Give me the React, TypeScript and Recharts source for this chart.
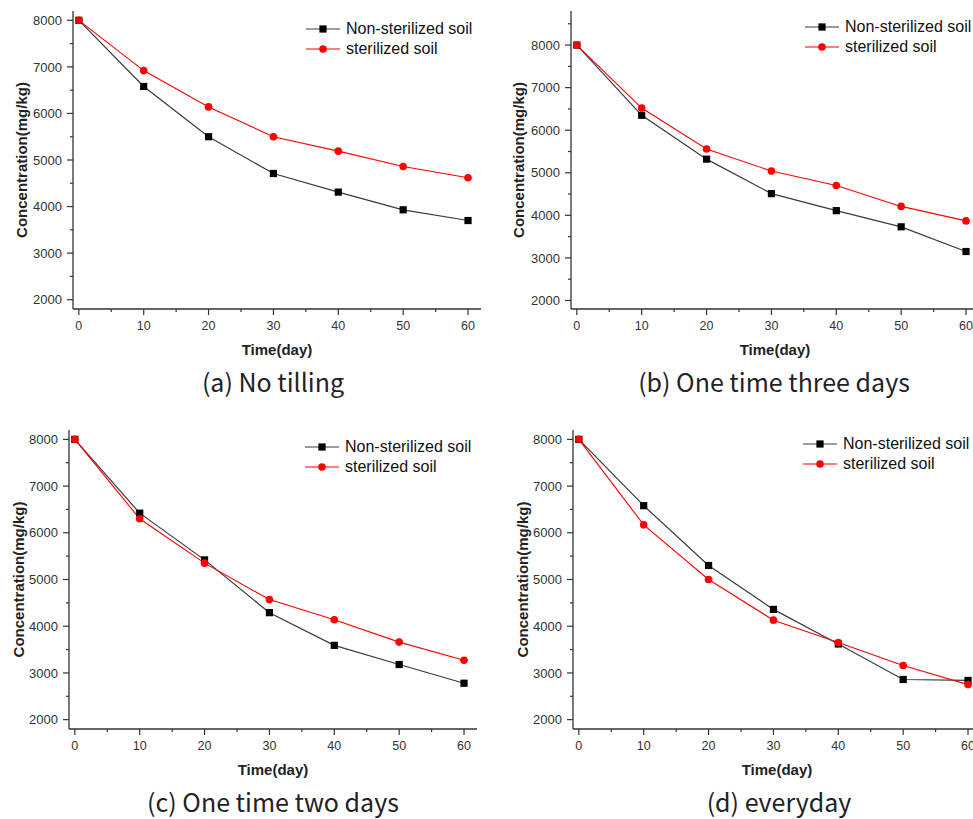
import React from 'react';
import { LineChart, Line, XAxis, YAxis, Legend } from 'recharts';

const days = [0, 10, 20, 30, 40, 50, 60];

// (a) No tilling
const noTillNon = [8000, 6580, 5500, 4710, 4310, 3930, 3700];
const noTillSter = [8000, 6920, 6140, 5500, 5190, 4860, 4620];
// (b) One time three days
const threeDayNon = [8000, 6350, 5320, 4510, 4110, 3730, 3150];
const threeDaySter = [8000, 6520, 5560, 5040, 4700, 4210, 3870];
// (c) One time two days
const twoDayNon = [8000, 6420, 5420, 4290, 3590, 3180, 2780];
const twoDaySter = [8000, 6300, 5350, 4570, 4140, 3660, 3270];
// (d) everyday
const dailyNon = [8000, 6580, 5300, 4360, 3620, 2860, 2840];
const dailySter = [8000, 6170, 5000, 4130, 3650, 3160, 2750];

const xTicks = [0, 5, 10, 15, 20, 25, 30, 35, 40, 45, 50, 55, 60];
const yTicksLow = [2000, 2500, 3000, 3500, 4000, 4500, 5000, 5500, 6000, 6500, 7000, 7500, 8000];
const yTicksHigh = [...yTicksLow, 8500];

const captions = ['(a) No tilling', '(b) One time three days', '(c) One time two days', '(d) everyday'];

const FONT = '"Liberation Sans", Arial, sans-serif';
const AXIS = '#333';

const YTick = (props: any) => {
  const { x, y, payload } = props;
  const v = payload.value;
  const major = v % 1000 === 0;
  const ax = x + 11;
  return (
    <g>
      <line x1={ax - (major ? 6 : 3)} y1={y} x2={ax} y2={y} stroke={AXIS} strokeWidth={1.2} />
      {major && (
        <text x={x} y={y} dy="0.36em" textAnchor="end" fontSize={13} fill={AXIS} fontFamily={FONT}>
          {v}
        </text>
      )}
    </g>
  );
};

const XTick = (props: any) => {
  const { x, y, payload } = props;
  const v = payload.value;
  const major = v % 10 === 0;
  const ay = y - 12;
  return (
    <g>
      <line x1={x} y1={ay} x2={x} y2={ay + (major ? 6 : 3)} stroke={AXIS} strokeWidth={1.2} />
      {major && (
        <text x={x} y={y} dy="0.71em" textAnchor="middle" fontSize={12.5} fill={AXIS} fontFamily={FONT}>
          {v}
        </text>
      )}
    </g>
  );
};

const Square = (p: any) => (
  <rect key={`sq-${p.index}`} x={p.cx - 3.6} y={p.cy - 3.6} width={7.2} height={7.2} fill="#000" />
);
const Circle = (p: any) => <circle key={`ci-${p.index}`} cx={p.cx} cy={p.cy} r={3.8} fill="#ff0000" />;

const LegendBox = ({ payload }: any) => (
  <div style={{ fontFamily: FONT, fontSize: 16, color: '#111' }}>
    {(payload || []).map((e: any) => (
      <div key={e.value} style={{ display: 'flex', alignItems: 'center', height: 20, whiteSpace: 'nowrap' }}>
        <svg width={34} height={20} style={{ marginRight: 6 }}>
          <line x1={0} y1={10} x2={34} y2={10} stroke={e.color} strokeWidth={1.2} />
          {e.dataKey === 'non' ? (
            <rect x={13.4} y={6.4} width={7.2} height={7.2} fill="#000" />
          ) : (
            <circle cx={17} cy={10} r={3.8} fill="#ff0000" />
          )}
        </svg>
        <span>{e.value}</span>
      </div>
    ))}
  </div>
);

type PanelProps = {
  left: number;
  top: number;
  plotLeft: number;
  marginTop: number;
  plotHeight: number;
  yDomain: [number, number];
  yTicks: number[];
  yLabelX: number;
  non: number[];
  ster: number[];
  legendLeft: number;
  legendTop: number;
};

const Panel = (p: PanelProps) => {
  const rows = days.map((d, i) => ({ day: d, non: p.non[i], ster: p.ster[i] }));
  const width = p.plotLeft + 408 + 10;
  const height = p.marginTop + p.plotHeight + 50;
  return (
    <div style={{ position: 'absolute', left: p.left, top: p.top }}>
      <LineChart width={width} height={height} data={rows} margin={{ top: p.marginTop, right: 10, bottom: 0, left: 0 }}>
        <XAxis
          dataKey="day"
          type="number"
          domain={[-0.9, 62]}
          allowDataOverflow
          ticks={xTicks}
          interval={0}
          tick={<XTick />}
          tickLine={false}
          tickSize={6}
          tickMargin={6}
          height={50}
          axisLine={{ stroke: AXIS, strokeWidth: 1.3 }}
          label={{
            value: 'Time(day)',
            position: 'insideBottom',
            offset: 4,
            style: { fontFamily: FONT, fontSize: 15, fontWeight: 'bold', fill: '#222' },
          }}
        />
        <XAxis xAxisId="frameTop" orientation="top" type="number" domain={[-0.9, 62]} height={0} tick={false} tickLine={false} axisLine={{ stroke: AXIS, strokeWidth: 1.3 }} />
        <YAxis
          type="number"
          domain={p.yDomain}
          allowDataOverflow
          ticks={p.yTicks}
          interval={0}
          tick={<YTick />}
          tickLine={false}
          tickSize={6}
          tickMargin={5}
          width={p.plotLeft}
          axisLine={{ stroke: AXIS, strokeWidth: 1.3 }}
          label={{
            value: 'Concentration(mg/kg)',
            angle: -90,
            position: 'insideLeft',
            offset: p.yLabelX,
            style: { textAnchor: 'middle', fontFamily: FONT, fontSize: 15, fontWeight: 'bold', fill: '#222' },
          }}
        />
        <YAxis yAxisId="frameRight" orientation="right" type="number" domain={p.yDomain} width={0} tick={false} tickLine={false} axisLine={{ stroke: AXIS, strokeWidth: 1.3 }} />
        <Legend
          layout="vertical"
          align="center"
          verticalAlign="middle"
          content={<LegendBox />}
          wrapperStyle={{ left: p.legendLeft, top: p.legendTop, width: 'auto' }}
        />
        <Line dataKey="non" name="Non-sterilized soil" stroke="#3a3a3a" strokeWidth={1.2} dot={Square} activeDot={false} isAnimationActive={false} />
        <Line dataKey="ster" name="sterilized soil" stroke="#ff0000" strokeWidth={1.1} dot={Circle} activeDot={false} isAnimationActive={false} />
      </LineChart>
    </div>
  );
};

const Caption = ({ text, cx, top }: { text: string; cx: number; top: number }) => (
  <div
    style={{
      position: 'absolute',
      left: cx - 200,
      top,
      width: 400,
      textAlign: 'center',
      fontFamily: '"Noto Sans CJK KR", "Noto Sans", sans-serif',
      fontSize: 25,
      lineHeight: '30px',
      color: '#222',
    }}
  >
    {text}
  </div>
);

export default function App() {
  return (
    <div style={{ position: 'fixed', left: 0, top: 0, width: 973, height: 819, overflow: 'hidden', background: '#fff' }}>
      <Panel left={0} top={0} plotLeft={73} marginTop={11} plotHeight={298} yDomain={[1800, 8200]} yTicks={yTicksLow} yLabelX={21.7} non={noTillNon} ster={noTillSter} legendLeft={306} legendTop={19} />
      <Panel left={490} top={0} plotLeft={81} marginTop={11} plotHeight={298} yDomain={[1800, 8800]} yTicks={yTicksHigh} yLabelX={29} non={threeDayNon} ster={threeDaySter} legendLeft={315} legendTop={17} />
      <Panel left={0} top={420} plotLeft={69} marginTop={10} plotHeight={299} yDomain={[1800, 8200]} yTicks={yTicksLow} yLabelX={18.5} non={twoDayNon} ster={twoDaySter} legendLeft={305} legendTop={16.7} />
      <Panel left={490} top={420} plotLeft={83} marginTop={10} plotHeight={299} yDomain={[1800, 8200]} yTicks={yTicksLow} yLabelX={33} non={dailyNon} ster={dailySter} legendLeft={313} legendTop={14.3} />
      <Caption text={captions[0]} cx={273} top={366} />
      <Caption text={captions[1]} cx={774} top={366} />
      <Caption text={captions[2]} cx={273} top={786} />
      <Caption text={captions[3]} cx={779} top={786} />
    </div>
  );
}
